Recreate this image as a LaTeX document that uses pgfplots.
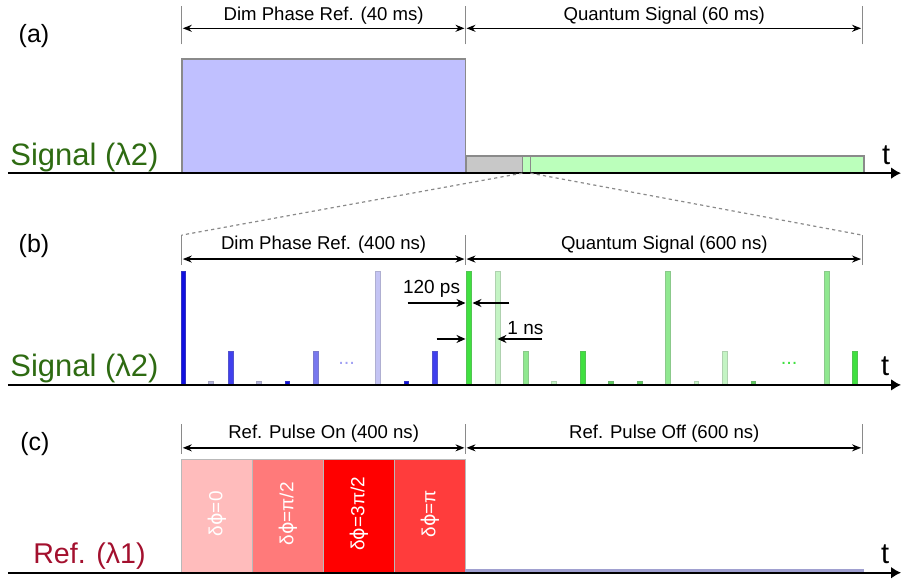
\documentclass[border=0pt]{standalone}
\usepackage{pgfplots}
\pgfplotsset{compat=1.18}
\usepackage{fontspec}
\setmainfont{Liberation Sans}
\newfontfamily\dv{DejaVu Sans}
\usetikzlibrary{arrows.meta}
\definecolor{blueRect}{HTML}{C0C0FF}
\definecolor{grayRect}{HTML}{C8C8C8}
\definecolor{greenRect}{HTML}{BBFFBB}
\definecolor{edge}{HTML}{8A8A8A}
\definecolor{bA}{HTML}{1010E0}
\definecolor{bB}{HTML}{4040EE}
\definecolor{bC}{HTML}{7878EE}
\definecolor{bD}{HTML}{C4C4F4}
\definecolor{bE}{HTML}{B4B4DC}
\definecolor{gA}{HTML}{40E040}
\definecolor{gB}{HTML}{C4F4C4}
\definecolor{gC}{HTML}{90E890}
\definecolor{gD}{HTML}{60CC60}
\definecolor{rA}{HTML}{FFBCBC}
\definecolor{rB}{HTML}{FF7A7A}
\definecolor{rC}{HTML}{FF0000}
\definecolor{rD}{HTML}{FF3C3C}
\definecolor{sigGreen}{HTML}{2E6B12}
\definecolor{refRed}{HTML}{A3102E}
\definecolor{offLine}{HTML}{A0A0D0}
% pulse in panel (b): colour, left, right, top (baseline 198)
\newcommand{\pulse}[4]{\addplot[draw=#1!70!gray, fill=#1, line width=0.4pt] coordinates {(#2,198) (#2,#4) (#3,#4) (#3,198)} -- cycle;}
\newcommand{\fs}[1]{\fontsize{#1}{#1}\selectfont}
\newcommand{\phis}{{\dv ϕ}}
\tikzset{brk/.style={draw=edge, line width=0.5pt}, dur/.style={line width=0.7pt, {Stealth[length=4.5pt,width=3.5pt]}-{Stealth[length=4.5pt,width=3.5pt]}}}
\begin{document}
\begin{tikzpicture}
\begin{axis}[x=0.5pt,y=0.5pt,xmin=0,xmax=902,ymin=0,ymax=582,hide axis,clip=false,scale only axis]
\path (axis cs:0,0) rectangle (axis cs:902,582);
% ---------- panel (a)
\addplot[draw=edge, fill=blueRect, line width=0.8pt] coordinates {(182,410) (182,524) (466,524) (466,410)} -- cycle;
\addplot[draw=edge, fill=grayRect, line width=0.8pt] coordinates {(467,410) (467,427) (523,427) (523,410)} -- cycle;
\addplot[draw=edge, fill=greenRect, line width=0.8pt] coordinates {(523,410) (523,427) (531,427) (531,410)} -- cycle;
\addplot[draw=edge, fill=greenRect, line width=0.8pt] coordinates {(531,410) (531,427) (865,427) (865,410)} -- cycle;
% ---------- panel (b) pulses
\pulse{bA}{182}{186}{312}
\pulse{bE}{209}{214}{202}
\pulse{bB}{229}{234}{232}
\pulse{bE}{257}{262}{202}
\pulse{bA}{286}{290}{202}
\pulse{bC}{314}{319}{232}
\pulse{bD}{376}{381}{312}
\pulse{bA}{405}{409}{202}
\pulse{bB}{433}{438}{232}
\pulse{gA}{467}{472}{312}
\pulse{gB}{496}{501}{312}
\pulse{gC}{524}{529}{232}
\pulse{gB}{552}{557}{202}
\pulse{gA}{581}{586}{232}
\pulse{gD}{609}{614}{202}
\pulse{gD}{638}{643}{202}
\pulse{gC}{666}{671}{312}
\pulse{gB}{695}{699}{202}
\pulse{gB}{723}{728}{232}
\pulse{gD}{752}{756}{202}
\pulse{gC}{825}{830}{312}
\pulse{gA}{853}{858}{232}
% ---------- panel (c) reference pulses
\addplot[draw=edge!60, fill=rA, line width=0.4pt] coordinates {(182,10) (182,123) (253,123) (253,10)} -- cycle;
\addplot[draw=edge!60, fill=rB, line width=0.4pt] coordinates {(253,10) (253,123) (324,123) (324,10)} -- cycle;
\addplot[draw=edge!60, fill=rC, line width=0.4pt] coordinates {(324,10) (324,123) (395,123) (395,10)} -- cycle;
\addplot[draw=edge!60, fill=rD, line width=0.4pt] coordinates {(395,10) (395,123) (466,123) (466,10)} -- cycle;
\addplot[draw=offLine, line width=1.3pt] coordinates {(466,12) (865,12)};
% ---------- time axes
\draw[line width=1pt, -{Latex[length=5pt,width=6pt]}] (axis cs:8,410) -- (axis cs:902,410);
\draw[line width=1pt, -{Latex[length=5pt,width=6pt]}] (axis cs:8,198) -- (axis cs:902,198);
\draw[line width=1pt, -{Latex[length=5pt,width=6pt]}] (axis cs:8,10) -- (axis cs:902,10);
\node[anchor=base, font=\fs{14.5}] at (axis cs:887,419) {t};
\node[anchor=base, font=\fs{14.5}] at (axis cs:886,207) {t};
\node[anchor=base, font=\fs{14.5}] at (axis cs:886,19) {t};
% ---------- panel labels
\node[font=\fs{12.5}] at (axis cs:34,547) {(a)};
\node[font=\fs{12.5}] at (axis cs:34,337) {(b)};
\node[font=\fs{12.5}] at (axis cs:35,139) {(c)};
\node[anchor=base west, inner sep=0pt, text=sigGreen, font=\fs{15.5}] at (axis cs:10,418) {Signal (λ2)};
\node[anchor=base west, inner sep=0pt, text=sigGreen, font=\fs{15.5}] at (axis cs:10,206) {Signal (λ2)};
\node[anchor=base west, inner sep=0pt, text=refRed, font=\fs{14.3}] at (axis cs:33,19) {Ref. (λ1)};
% ---------- brackets
\draw[brk] (axis cs:182,539) -- (axis cs:182,577);
\draw[brk] (axis cs:466,539) -- (axis cs:466,577);
\draw[brk] (axis cs:863,539) -- (axis cs:863,577);
\draw[brk] (axis cs:182,318) -- (axis cs:182,348);
\draw[brk] (axis cs:466,318) -- (axis cs:466,348);
\draw[brk] (axis cs:863,318) -- (axis cs:863,348);
\draw[brk] (axis cs:182,129) -- (axis cs:182,159);
\draw[brk] (axis cs:466,129) -- (axis cs:466,159);
\draw[brk] (axis cs:863,129) -- (axis cs:863,159);
\draw[dur] (axis cs:183,555) -- (axis cs:465,555);
\draw[dur] (axis cs:467,555) -- (axis cs:862,555);
\draw[dur] (axis cs:183,324) -- (axis cs:465,324);
\draw[dur] (axis cs:467,324) -- (axis cs:862,324);
\draw[dur] (axis cs:183,135) -- (axis cs:465,135);
\draw[dur] (axis cs:467,135) -- (axis cs:862,135);
\node[font=\fs{9.3}] at (axis cs:324,568) {Dim Phase Ref. (40 ms)};
\node[font=\fs{9.3}] at (axis cs:665,568) {Quantum Signal (60 ms)};
\node[font=\fs{9.3}] at (axis cs:324,338) {Dim Phase Ref. (400 ns)};
\node[font=\fs{9.3}] at (axis cs:665,338) {Quantum Signal (600 ns)};
\node[font=\fs{9.3}] at (axis cs:324,149) {Ref. Pulse On (400 ns)};
\node[font=\fs{9.3}] at (axis cs:665,149) {Ref. Pulse Off (600 ns)};
% ---------- zoom lines
\draw[edge, line width=0.6pt, dash pattern=on 1.6pt off 1.6pt] (axis cs:523,410) -- (axis cs:182,348);
\draw[edge, line width=0.6pt, dash pattern=on 1.6pt off 1.6pt] (axis cs:531,410) -- (axis cs:863,348);
% ---------- dots
\node[text=bC!70, font=\fs{10}] at (axis cs:347,220) {...};
\node[text=gA, font=\fs{10}] at (axis cs:790,220) {...};
% ---------- timing annotations
\node[font=\fs{9.5}] at (axis cs:432,294) {120 ps};
\draw[line width=0.7pt, -{Stealth[length=4.5pt,width=4pt]}] (axis cs:408,280) -- (axis cs:466,280);
\draw[line width=0.7pt, -{Stealth[length=4.5pt,width=4pt]}] (axis cs:510,280) -- (axis cs:473,280);
\node[font=\fs{9.5}] at (axis cs:526,255) {1 ns};
\draw[line width=0.7pt, -{Stealth[length=4.5pt,width=4pt]}] (axis cs:437,244) -- (axis cs:466,244);
\draw[line width=0.7pt, -{Stealth[length=4.5pt,width=4pt]}] (axis cs:543,244) -- (axis cs:498,244);
% ---------- phase labels
\node[rotate=90, text=white, font=\fs{9.5}] at (axis cs:217.5,69) {δ\phis=0};
\node[rotate=90, text=white, font=\fs{9.5}] at (axis cs:288.5,69) {δ\phis=π/2};
\node[rotate=90, text=white, font=\fs{9.5}] at (axis cs:359.5,69) {δ\phis=3π/2};
\node[rotate=90, text=white, font=\fs{9.5}] at (axis cs:430.5,69) {δ\phis=π};
\end{axis}
\end{tikzpicture}
\end{document}
